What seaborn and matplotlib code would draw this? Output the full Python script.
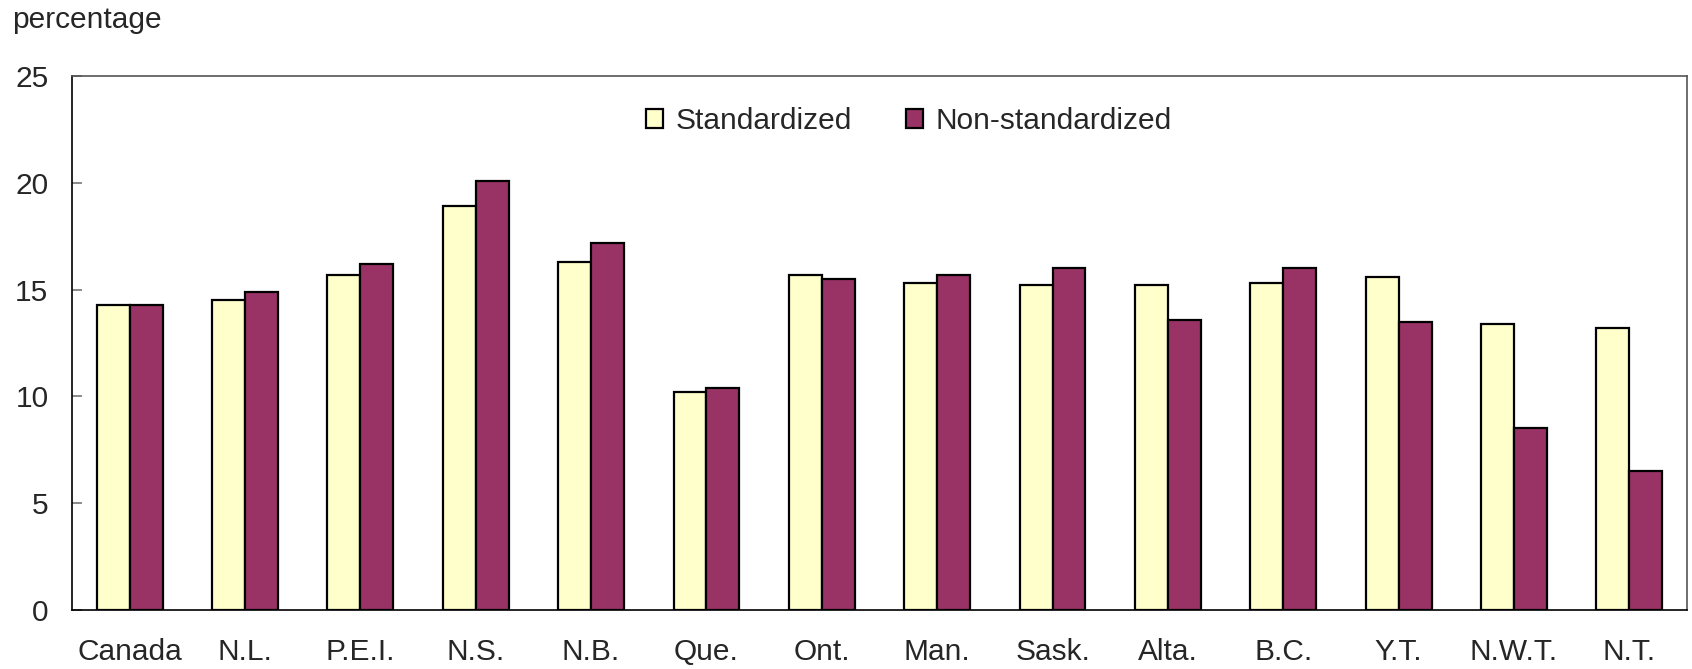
import matplotlib
matplotlib.use("Agg")

import pandas as pd
import matplotlib.pyplot as plt
import seaborn as sns

# =====================
# DATA
# =====================
regions = ["Canada", "N.L.", "P.E.I.", "N.S.", "N.B.", "Que.", "Ont.",
           "Man.", "Sask.", "Alta.", "B.C.", "Y.T.", "N.W.T.", "N.T."]
standardized = [14.3, 14.5, 15.7, 18.9, 16.3, 10.2, 15.7,
                15.3, 15.2, 15.2, 15.3, 15.6, 13.4, 13.2]
non_standardized = [14.3, 14.9, 16.2, 20.1, 17.2, 10.4, 15.5,
                    15.7, 16.0, 13.6, 16.0, 13.5, 8.5, 6.5]
series_names = ["Standardized", "Non-standardized"]
colors = ["#FFFFCC", "#993366"]

df = pd.DataFrame({
    "region": regions * 2,
    "value": standardized + non_standardized,
    "series": [series_names[0]] * len(regions) + [series_names[1]] * len(regions),
})

# =====================
# STYLE
# =====================
sns.set_style("ticks")
plt.rcParams["font.family"] = ["Liberation Sans", "DejaVu Sans"]
plt.rcParams["font.size"] = 21

fig = plt.figure(figsize=(16.92, 6.69), dpi=100)
ax = fig.add_axes([72 / 1692, 59 / 669, 1615 / 1692, 534 / 669])

sns.barplot(
    data=df,
    x="region",
    y="value",
    hue="series",
    palette=colors,
    saturation=1,
    width=0.5714,
    edgecolor="black",
    linewidth=1.6,
    ax=ax,
)

ax.set_xlim(-0.5, len(regions) - 0.5)
ax.set_ylim(0, 25)
ax.set_yticks([0, 5, 10, 15, 20, 25])
ax.set_xlabel("")
ax.set_ylabel("")

ax.tick_params(axis="y", direction="in", length=7, width=1.2, color="#777777",
               pad=17, labelsize=21.5)
ax.tick_params(axis="x", length=0, pad=20, labelsize=21.5)

for side in ["left", "bottom"]:
    ax.spines[side].set_color("black")
    ax.spines[side].set_linewidth(1.2)
for side in ["top", "right"]:
    ax.spines[side].set_visible(True)
    ax.spines[side].set_color("#555555")
    ax.spines[side].set_linewidth(1.2)

ax.legend(
    loc="center",
    bbox_to_anchor=(0.518, 0.915),
    ncol=2,
    frameon=False,
    fontsize=21.5,
    handlelength=0.6,
    handleheight=0.6,
    handletextpad=0.4,
    columnspacing=1.8,
)

fig.text(12 / 1692, 1 - 6 / 669, "percentage", ha="left", va="top", fontsize=21.5)

plt.savefig("out.png", dpi=100)
plt.close()
